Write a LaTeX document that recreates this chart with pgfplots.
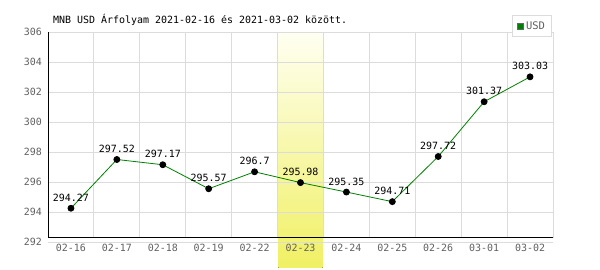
\documentclass[border=0pt]{standalone}
\usepackage{pgfplots}
\pgfplotsset{compat=1.18}
\usepackage{fontspec}
\setmainfont{DejaVu Sans Mono}
\definecolor{gridgray}{HTML}{DCDCDC}
\definecolor{labgray}{HTML}{606060}
\definecolor{linegreen}{HTML}{008000}
\definecolor{dashgreen}{HTML}{99CC99}
\definecolor{hltop}{HTML}{FFFFF2}
\definecolor{hlbot}{HTML}{F0F064}
\pgfdeclarelayer{hl}
\pgfplotsset{
  layers/my layers/.define layer set={
    axis background,axis grid,hl,axis ticks,axis lines,axis tick labels,pre main,main,axis descriptions,axis foreground
  }{},
}
\pgfplotstableread{
x y lab
0 294.27 294.27
1 297.52 297.52
2 297.17 297.17
3 295.57 295.57
4 296.70 296.7
5 295.98 295.98
6 295.35 295.35
7 294.71 294.71
8 297.72 297.72
9 301.37 301.37
10 303.03 303.03
}\usd
\begin{document}
\begin{tikzpicture}
\begin{axis}[
  set layers=my layers,
  at={(48bp,27.7bp)}, anchor=south west,
  scale only axis, width=505bp, height=210bp,
  xmin=-0.5, xmax=10.5, ymin=292, ymax=306,
  ytick={292,294,...,306},
  xtick={0,...,10},
  xticklabels={02-16,02-17,02-18,02-19,02-22,02-23,02-24,02-25,02-26,03-01,03-02},
  ymajorgrids, major grid style={gridgray, line width=1bp},
  axis line style={draw=none},
  major tick length=0pt,
  tick label style={font=\fontsize{10}{12}\selectfont, text=labgray, inner sep=0pt},
  xticklabel style={anchor=north, yshift=-2bp},
  yticklabel style={anchor=east, xshift=-6bp},
  /pgf/number format/assume math mode=true,
  clip=false,
  legend style={at={(0.998,1.082)}, anchor=north east, draw=gridgray, line width=1bp,
    fill=white, font=\fontsize{10.5}{12}\selectfont, text=labgray, inner xsep=4.5bp, inner ysep=4bp,
    legend cell align=left},
]
\begin{pgfonlayer}{axis grid}
\pgfplotsinvokeforeach{0.5,1.5,...,10.5}{
  \draw[gridgray, line width=1bp] (axis cs:#1,292.3) -- (axis cs:#1,306);
}
\draw[dashgreen, dash pattern=on 4bp off 3bp, line width=1bp] (axis cs:-0.5,296) -- (axis cs:10.5,296);
\end{pgfonlayer}
\begin{pgfonlayer}{hl}
\fill[top color=hltop, bottom color=hlbot] (axis cs:4.52,290.3) rectangle (axis cs:5.48,306);
\end{pgfonlayer}
\draw[black, line width=1bp] (axis cs:-0.5,306) -- (axis cs:-0.5,292.3) -- (axis cs:10.5,292.3);
\addlegendimage{legend image code/.code={\draw[fill=linegreen, draw=black!60, line width=0.8bp] (0bp,-3bp) rectangle (6bp,3bp);}}
\addlegendentry{USD}
\addplot[forget plot, linegreen, line width=0.8bp, mark=*, mark size=3bp,
  mark options={black, fill=black},
  nodes near coords, point meta=explicit symbolic,
  nodes near coords style={font=\fontsize{10}{12}\selectfont, text=black, anchor=center, yshift=10.5bp, inner sep=0pt}]
  table[x=x, y=y, meta=lab] {\usd};
\end{axis}
\node[anchor=base west, inner sep=0pt, font=\fontsize{10}{12}\selectfont] at (53bp,246.7bp) {MNB USD Árfolyam 2021-02-16 és 2021-03-02 között.};
\pgfresetboundingbox
\path (0,0) rectangle (600bp,270bp);
\end{tikzpicture}
\end{document}
